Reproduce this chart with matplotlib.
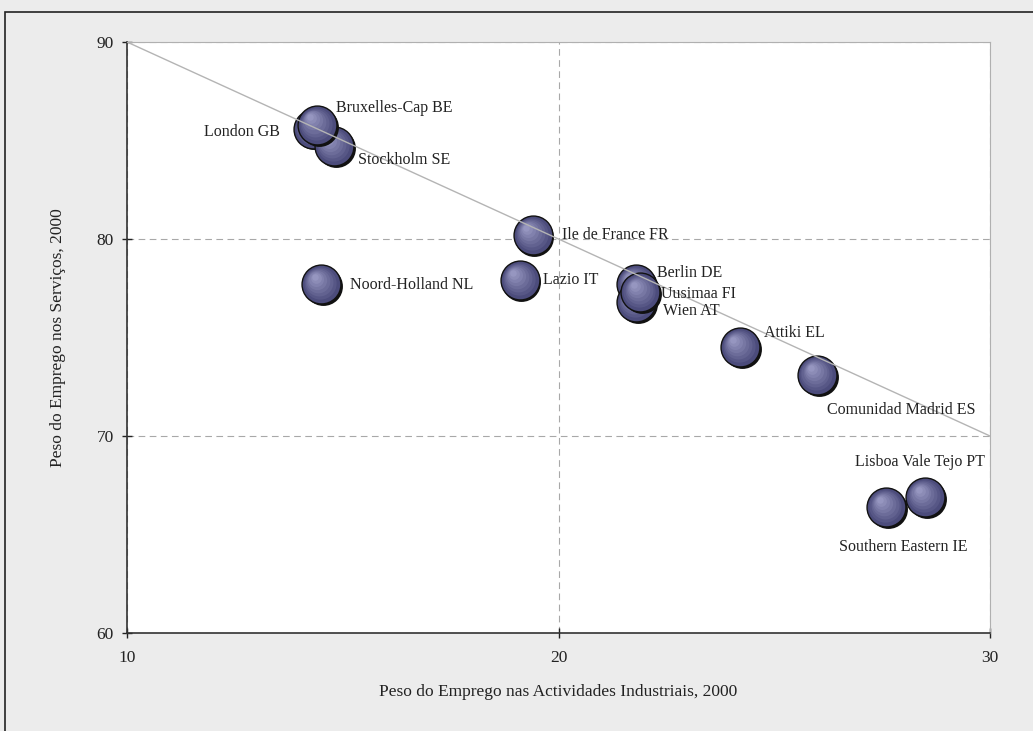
import matplotlib
matplotlib.use("Agg")
import matplotlib.pyplot as plt
import numpy as np
from matplotlib.colors import to_rgb
from matplotlib.transforms import offset_copy
from matplotlib.patches import Rectangle

# Peso do emprego por região, 2000 (%)
regioes = ["London GB", "Stockholm SE", "Bruxelles-Cap BE", "Noord-Holland NL",
           "Ile de France FR", "Lazio IT", "Berlin DE", "Wien AT", "Uusimaa FI",
           "Attiki EL", "Comunidad Madrid ES", "Southern Eastern IE",
           "Lisboa Vale Tejo PT"]
industria = [14.3, 14.8, 14.4, 14.5, 19.4, 19.1, 21.8, 21.8, 21.9,
             24.2, 26.0, 27.6, 28.5]
servicos = [85.6, 84.7, 85.8, 77.7, 80.2, 77.9, 77.7, 76.8, 77.3,
            74.5, 73.1, 66.4, 66.9]

# deslocamento dos rótulos em pixels e alinhamento horizontal
rotulo_dx = [-33, 24, 19, 29, 29, 23, 21, 27, 21, 24, 10, 17, -5]
rotulo_dy = [-3, -14, 17, -1, 0, 0, 11, -9, -2, 14, -35, -40, 35]
rotulo_ha = ["right", "left", "left", "left", "left", "left", "left", "left",
             "left", "left", "left", "center", "center"]

fonte = "Liberation Serif"
plt.rcParams["font.family"] = [fonte, "DejaVu Serif"]

fig = plt.figure(figsize=(10.33, 7.31), dpi=100, facecolor="#ececec")
W, H = 1033, 731

# moldura do gráfico
fig.patches.append(Rectangle((5 / W, -0.05), 1.2, (H - 12) / H + 0.05,
                             transform=fig.transFigure, fill=False,
                             edgecolor="#222222", linewidth=1.2))

ax = fig.add_axes([127 / W, (H - 633) / H, 863 / W, 591 / H])
ax.set_facecolor("white")
ax.set_xlim(10, 30)
ax.set_ylim(60, 90)
ax.set_xticks([10, 20, 30])
ax.set_yticks([60, 70, 80, 90])
ax.grid(True, color="#a8a8a8", linewidth=0.8, dashes=(6, 4))
ax.set_axisbelow(True)

for lado in ["top", "right"]:
    ax.spines[lado].set_color("#b0b0b0")
    ax.spines[lado].set_linewidth(0.8)
for lado in ["left", "bottom"]:
    ax.spines[lado].set_color("#333333")
    ax.spines[lado].set_linewidth(1.2)

ax.tick_params(direction="inout", length=7, width=1, labelsize=12.5,
               colors="#222222")
ax.tick_params(axis="x", pad=9)
ax.tick_params(axis="y", pad=6)

# linha de referência: indústria + serviços = 100
xs = np.array(ax.get_xlim())
ax.plot(xs, 100 - xs, color="#b4b4b4", linewidth=1, zorder=50)

# bolhas com sombreado esférico
corpo = np.array(to_rgb("#4c4c7c"))
brilho = np.array(to_rgb("#9696c0"))
diam = 28.0  # pontos
px = 0.72    # pontos por pixel

for i, (x, y) in enumerate(zip(industria, servicos)):
    z = 10 + i * 3
    sombra = offset_copy(ax.transData, fig=fig, x=1.3, y=-1.3, units="points")
    ax.scatter([x], [y], s=diam ** 2, color="#111111", transform=sombra,
               zorder=z, linewidths=0)
    ax.scatter([x], [y], s=diam ** 2, color=corpo, edgecolors="#111111",
               linewidths=1.0, zorder=z + 0.1)
    for t in np.linspace(0.15, 1, 7):
        d = diam * (1 - 0.78 * t) - 1.5
        tr = offset_copy(ax.transData, fig=fig, x=-0.17 * diam * t,
                         y=0.19 * diam * t, units="points")
        c = corpo + (brilho - corpo) * t
        ax.scatter([x], [y], s=d ** 2, color=c, transform=tr,
                   zorder=z + 0.1 + t, linewidths=0)

for nome, x, y, dx, dy, ha in zip(regioes, industria, servicos,
                                  rotulo_dx, rotulo_dy, rotulo_ha):
    ax.annotate(nome, (x, y), xytext=(dx * px, dy * px),
                textcoords="offset points", ha=ha, va="center",
                fontsize=11.5, color="#222222", zorder=100)

ax.set_xlabel("Peso do Emprego nas Actividades Industriais, 2000",
              fontsize=12.5, color="#222222", labelpad=13)
ax.set_ylabel("Peso do Emprego nos Serviços, 2000", fontsize=12.5,
              color="#222222", labelpad=22)

fig.savefig("out.png", dpi=100, facecolor=fig.get_facecolor())
